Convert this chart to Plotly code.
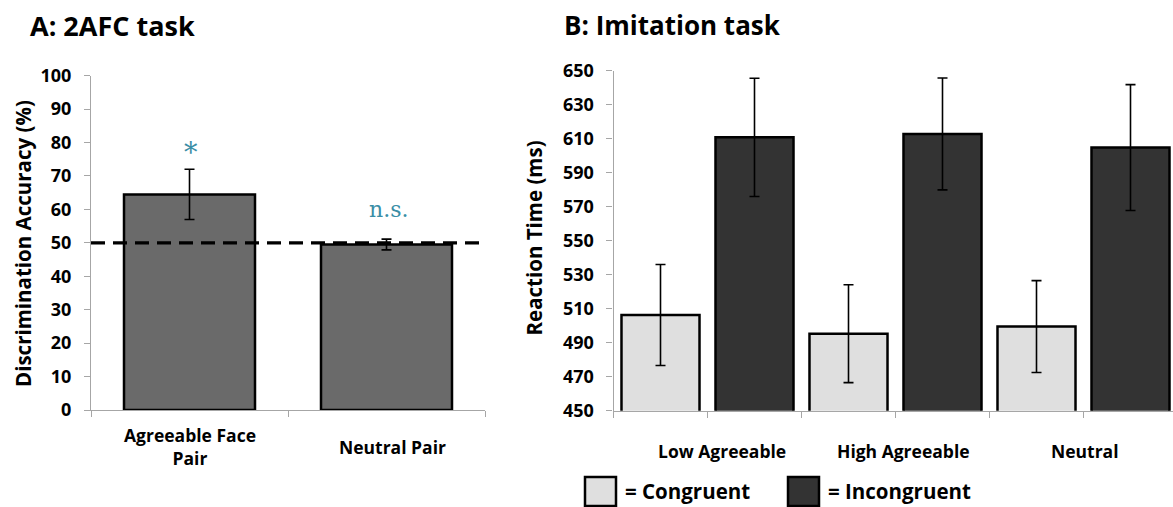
import plotly.graph_objects as go

# ---- Panel A: 2AFC task ----
a_categories = ["Agreeable Face<br>Pair", "Neutral Pair"]
a_accuracy = [64.5, 49.5]
a_error = [7.5, 1.6]
a_chance = 50
a_marks = ["*", "n.s."]
a_mark_y = [77.0, 60.0]
a_yticks = [0, 10, 20, 30, 40, 50, 60, 70, 80, 90, 100]

# ---- Panel B: Imitation task ----
b_groups = ["Low Agreeable", "High Agreeable", "Neutral"]
b_congruent = [506.3, 495.3, 499.5]
b_congruent_err = [29.7, 28.8, 27.0]
b_incongruent = [610.8, 612.8, 604.8]
b_incongruent_err = [34.8, 32.9, 37.0]
b_yticks = [450, 470, 490, 510, 530, 550, 570, 590, 610, 630, 650]
b_legend = ["= Congruent", "= Incongruent"]

W, H = 1173, 507
FONT = "Open Sans"
TEAL = "#3a8ea6"
AXIS_GRAY = "#a6a6a6"
C_LIGHT = "#dfdfdf"
C_DARK = "#333333"
C_MID = "#6a6a6a"


def px_x(p):
    return p / W


def px_y(p):
    return 1 - p / H


fig = go.Figure()

# Panel A bars
fig.add_trace(go.Bar(
    x=list(range(len(a_accuracy))), y=a_accuracy, width=0.665,
    marker=dict(color=C_MID, line=dict(color="black", width=2.5)),
    error_y=dict(type="data", array=a_error, color="black", thickness=1.6, width=5),
    xaxis="x", yaxis="y", showlegend=False, hoverinfo="skip",
))

# Panel B bars: each bar has its own slot, congruent then incongruent per group
b_x_con = [2 * i for i in range(len(b_groups))]
b_x_inc = [2 * i + 1 for i in range(len(b_groups))]
fig.add_trace(go.Bar(
    x=b_x_con, y=b_congruent, width=0.83,
    marker=dict(color=C_LIGHT, line=dict(color="black", width=2.5)),
    error_y=dict(type="data", array=b_congruent_err, color="black", thickness=1.6, width=5),
    xaxis="x2", yaxis="y2", showlegend=False, hoverinfo="skip",
))
fig.add_trace(go.Bar(
    x=b_x_inc, y=b_incongruent, width=0.83,
    marker=dict(color=C_DARK, line=dict(color="black", width=2.5)),
    error_y=dict(type="data", array=b_incongruent_err, color="black", thickness=1.6, width=5),
    xaxis="x2", yaxis="y2", showlegend=False, hoverinfo="skip",
))

tickfont = dict(family=FONT, size=18, color="black", weight="bold")

axis_common = dict(
    showgrid=False, zeroline=False, showline=True, linecolor=AXIS_GRAY,
    linewidth=1.2, ticks="outside", tickcolor=AXIS_GRAY, ticklen=6, tickwidth=1.2,
    automargin=False,
)

fig.update_layout(
    width=W, height=H, autosize=False,
    margin=dict(l=0, r=0, t=0, b=0, pad=0, autoexpand=False),
    paper_bgcolor="white", plot_bgcolor="white",
    barmode="overlay",
    xaxis=dict(
        domain=[px_x(91), px_x(485)], range=[-0.5, 1.5],
        tickvals=[-0.5, 0.5, 1.5], ticktext=["", "", ""], anchor="y",
        **axis_common,
    ),
    yaxis=dict(
        domain=[px_y(410), px_y(75.7)], range=[0, 100],
        tickvals=a_yticks, tickfont=tickfont, anchor="x", ticklabelstandoff=9,
        **axis_common,
    ),
    xaxis2=dict(
        domain=[px_x(613.5), 1.0], range=[-0.5, -0.5 + (W - 613.5) / 94.0],
        tickvals=[i - 0.5 for i in range(7)], ticktext=[""] * 7, anchor="y2",
        **axis_common,
    ),
    yaxis2=dict(
        domain=[px_y(410.7), px_y(70.7)], range=[450, 650],
        tickvals=b_yticks, tickfont=tickfont, anchor="x2", ticklabelstandoff=9,
        **axis_common,
    ),
)

# Chance-level reference line
fig.add_shape(
    type="line", xref="x domain", yref="y", x0=0, x1=1, y0=a_chance, y1=a_chance,
    line=dict(color="black", width=3.2, dash="14px,8px"), layer="above",
)

ann = []
# Panel titles
ann.append(dict(text="<b>A: 2AFC task</b>", x=px_x(28), y=px_y(25), xref="paper", yref="paper",
                xanchor="left", yanchor="middle", showarrow=False,
                font=dict(family=FONT, size=27, color="black")))
ann.append(dict(text="<b>B: Imitation task</b>", x=px_x(562), y=px_y(25), xref="paper", yref="paper",
                xanchor="left", yanchor="middle", showarrow=False,
                font=dict(family=FONT, size=26, color="black")))
# Axis titles
ann.append(dict(text="<b>Discrimination Accuracy (%)</b>", x=px_x(23), y=px_y(244), xref="paper",
                yref="paper", textangle=-90, showarrow=False, xanchor="center", yanchor="middle",
                font=dict(family=FONT, size=20.5, color="black")))
ann.append(dict(text="<b>Reaction Time (ms)</b>", x=px_x(533), y=px_y(238.5), xref="paper",
                yref="paper", textangle=-90, showarrow=False, xanchor="center", yanchor="middle",
                font=dict(family=FONT, size=20.5, color="black")))
# Panel A category labels
ann.append(dict(text="<b>" + a_categories[0] + "</b>", x=0, y=px_y(446), xref="x", yref="paper",
                showarrow=False, yanchor="middle",
                font=dict(family=FONT, size=17.5, color="black")))
ann.append(dict(text="<b>" + a_categories[1] + "</b>", x=1.03, y=px_y(447), xref="x", yref="paper",
                showarrow=False, yanchor="middle",
                font=dict(family=FONT, size=17.5, color="black")))
# Significance marks
ann.append(dict(text=a_marks[0], x=0.01, y=a_mark_y[0], xref="x", yref="y", showarrow=False,
                yanchor="middle", font=dict(family="DejaVu Serif", size=27, color=TEAL)))
ann.append(dict(text=a_marks[1], x=1.01, y=a_mark_y[1], xref="x", yref="y", showarrow=False,
                yanchor="middle", font=dict(family="DejaVu Serif", size=22, color=TEAL)))
# Panel B group labels
b_label_x = [0.65, 2.58, 4.52]
for g, gx in zip(b_groups, b_label_x):
    ann.append(dict(text="<b>" + g + "</b>", x=gx, y=px_y(451), xref="x2", yref="paper",
                    showarrow=False, yanchor="middle",
                    font=dict(family=FONT, size=17.5, color="black")))
# Legend swatches and labels
legend_items = [(585, 616, C_LIGHT, 623, b_legend[0]), (788, 819, C_DARK, 826, b_legend[1])]
for x0, x1, col, tx, label in legend_items:
    fig.add_shape(type="rect", xref="paper", yref="paper",
                  x0=px_x(x0), x1=px_x(x1), y0=px_y(506), y1=px_y(477),
                  fillcolor=col, line=dict(color="black", width=2.5))
    ann.append(dict(text="<b>" + label + "</b>", x=px_x(tx), y=px_y(491), xref="paper", yref="paper",
                    xanchor="left", yanchor="middle", showarrow=False,
                    font=dict(family=FONT, size=20.5, color="black")))

fig.update_layout(annotations=ann)

fig.write_html("out.html")
